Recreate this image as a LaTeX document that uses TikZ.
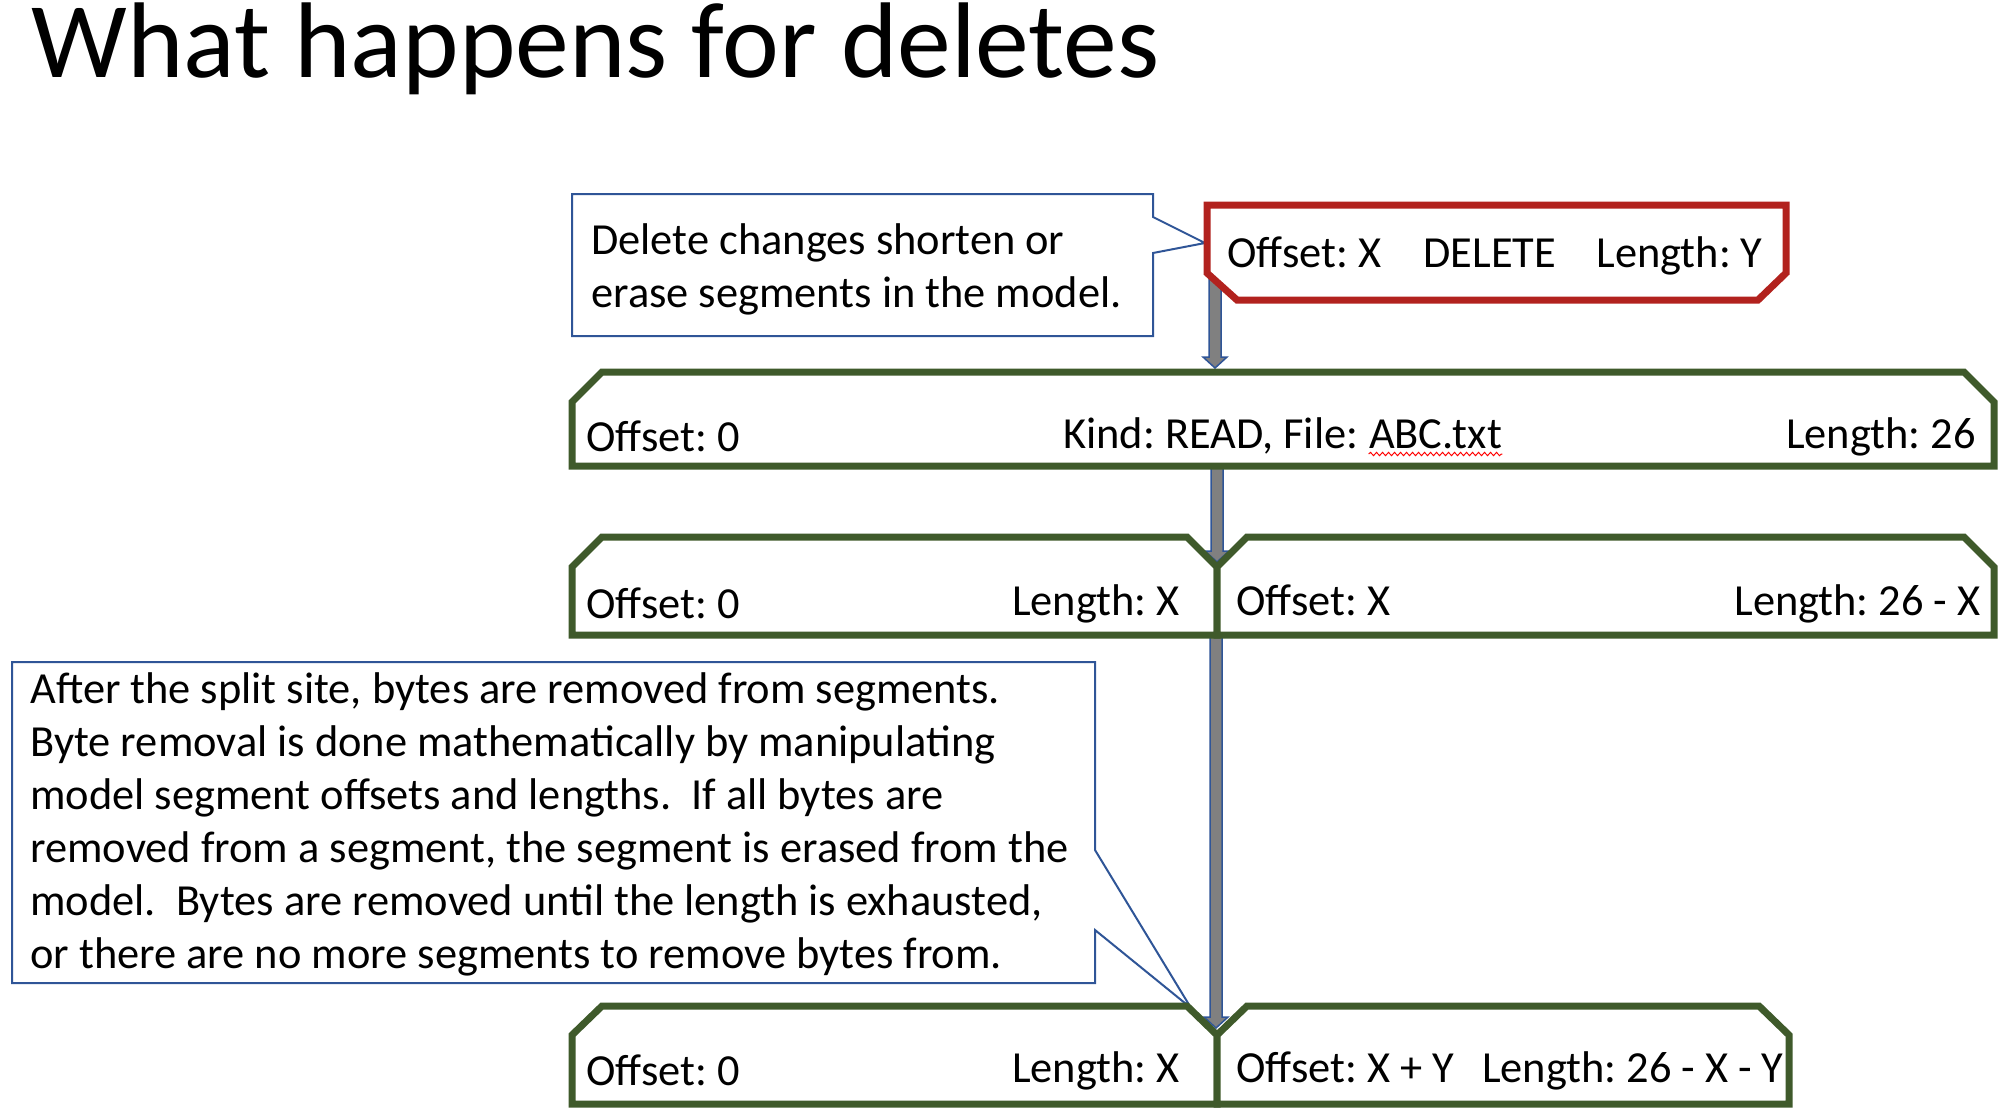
\documentclass[tikz,border=0pt]{standalone}
\usepackage{fontspec}
\setmainfont{Carlito}
\usetikzlibrary{calc,decorations.pathmorphing}

\definecolor{segGreen}{HTML}{3F5A2B}
\definecolor{delRed}{HTML}{B2221E}
\definecolor{noteBlue}{HTML}{2F5597}

% fat grey arrow from #1 down to #2
\newcommand{\blockarrow}[2]{%
  \draw[blockarr] ($(#1)+(-6,0)$) -- ($(#2)+(-6,-11)$) -- ($(#2)+(-12,-11)$)
    -- (#2) -- ($(#2)+(12,-11)$) -- ($(#2)+(6,-11)$) -- ($(#1)+(6,0)$) -- cycle;}

\begin{document}
\frenchspacing
\begin{tikzpicture}[x=0.5pt,y=-0.5pt,
    seg/.style={draw=segGreen,line width=3.5pt,fill=white},
    delbox/.style={draw=delRed,line width=3.5pt,fill=white},
    note/.style={draw=noteBlue,line width=1pt,fill=white},
    blockarr/.style={draw=noteBlue,line width=0.75pt,fill=gray},
    lbl/.style={inner sep=0pt,font=\fontsize{22.2}{26.5}\selectfont},
    notetext/.style={lbl,align=left,anchor=base west}]
    \useasboundingbox (0,0) rectangle (2006,1114);

    % Title
    \node[lbl,anchor=base west,font=\fontsize{53.8}{64}\selectfont]
      (title) at (31,77) {What happens for deletes};

    % Points the arrows run between
    \coordinate (delfoot)   at (1215,250);
    \coordinate (readtop)   at (1215,368);
    \coordinate (readfoot)  at (1217,466);
    \coordinate (splitV)    at (1217,562);
    \coordinate (splitfoot) at (1216,635);
    \coordinate (finalV)    at (1216,1028);

    % 1) Arrows down the column
    \blockarrow{delfoot}{readtop}
    \blockarrow{readfoot}{splitV}
    \blockarrow{splitfoot}{finalV}

    % 2) Callout on the delete change (base = last line)
    \draw[note] (572,194) -- (1153,194) -- (1153,217) -- (1205,243)
      -- (1153,253) -- (1153,336) -- (572,336) -- cycle;
    \node[notetext] (note1) at (591,307)
      {Delete changes shorten or\\erase segments in the model.};

    % 3) The DELETE change
    \draw[delbox] (1207,205) -- (1786,205) -- (1786,273) -- (1758,300)
      -- (1237,300) -- (1207,273) -- cycle;
    \node[lbl,anchor=base west] (delofs) at (1227,267) {Offset: X};
    \node[lbl,anchor=base west] (delkind) at (1423,267) {DELETE};
    \node[lbl,anchor=base east] (dellen) at (1763,267) {Length: Y};

    % 4) Model before: one READ segment
    \draw[seg] (572,466) -- (572,402) -- (602,372) -- (1964,372)
      -- (1994,402) -- (1994,466) -- cycle;
    \node[lbl,anchor=base west] (readofs) at (586,451) {Offset: 0};
    \node[lbl,anchor=base west] (readkind) at (1063,448) {Kind: READ, File:};
    \node[lbl,anchor=base west] (abc) at ($(readkind.base east)+(10,0)$) {ABC.txt};
    \draw[red,line width=0.5pt,decorate,
      decoration={snake,amplitude=0.8pt,segment length=3pt}]
      ($(abc.base west)+(0,6)$) -- ($(abc.base east)+(0,6)$);
    \node[lbl,anchor=base east] (readlen) at (1976,448) {Length: 26};

    % 5) Split at the delete offset
    \draw[seg] (572,635) -- (572,567) -- (602,537) -- (1187,537)
      -- (1217,567) -- (1217,635) -- cycle;
    \draw[seg] (1217,635) -- (1217,567) -- (1247,537) -- (1964,537)
      -- (1994,567) -- (1994,635) -- cycle;
    \node[lbl,anchor=base west] (headofs) at (586,618) {Offset: 0};
    \node[lbl,anchor=base east] (headlen) at (1180,615) {Length: X};
    \node[lbl,anchor=base west] (tailofs) at (1236,615) {Offset: X};
    \node[lbl,anchor=base east] (taillen) at (1981,615) {Length: 26 - X};

    % 6) Callout on the byte removal (base = last line)
    \draw[note] (12,662) -- (1095,662) -- (1095,850) -- (1191,1008)
      -- (1095,930) -- (1095,983) -- (12,983) -- cycle;
    \node[notetext] (note2) at (30,968)
      {After the split site, bytes are removed from segments.\\
       Byte removal is done mathematically by manipulating\\
       model segment offsets and lengths.\ \ If all bytes are\\
       removed from a segment, the segment is erased from the\\
       model.\ \ Bytes are removed until the length is exhausted,\\
       or there are no more segments to remove bytes from.};

    % 7) Model after the bytes are removed
    \draw[seg] (572,1104) -- (572,1035) -- (602,1006) -- (1187,1006)
      -- (1217,1035) -- (1217,1104) -- cycle;
    \draw[seg] (1217,1104) -- (1217,1035) -- (1247,1006) -- (1759,1006)
      -- (1789,1035) -- (1789,1104) -- cycle;
    \node[lbl,anchor=base west] (endofs) at (586,1085) {Offset: 0};
    \node[lbl,anchor=base east] (endlen) at (1180,1082) {Length: X};
    \node[lbl,anchor=base west] (restofs) at (1236,1082) {Offset: X + Y};
    \node[lbl,anchor=base east] (restlen) at (1784,1082) {Length: 26 - X - Y};
\end{tikzpicture}
\end{document}
